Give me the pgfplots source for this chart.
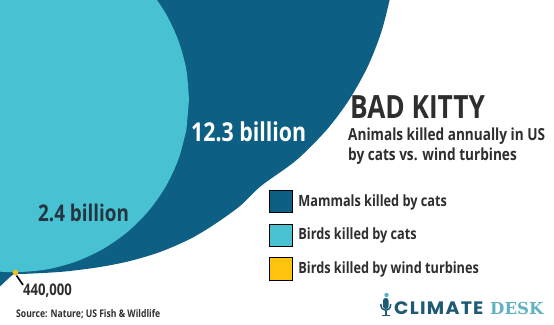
\documentclass[border=0pt]{standalone}
\usepackage{pgfplots}
\pgfplotsset{compat=1.18}
\usepackage{fontspec}
\setmainfont{Open Sans}[FakeStretch=0.82]
\newfontfamily\pop{Poppins}[LetterSpace=7, FakeStretch=1.05]
\newfontfamily\dvs{DejaVu Serif}
\definecolor{cDark}{HTML}{0E5F84}
\definecolor{cLight}{HTML}{48C2D3}
\definecolor{cYellow}{HTML}{FDC30D}
\definecolor{cText}{HTML}{2E2E2E}
\definecolor{cNum}{HTML}{243540}
\definecolor{cLogoDark}{HTML}{1E5A74}
\definecolor{cLogoLight}{HTML}{5FB3C1}
\begin{document}
\begin{tikzpicture}
\useasboundingbox (0,0) rectangle (554bp,325bp);
\fill[white] (0,0) rectangle (554bp,325bp);
\begin{axis}[
  at={(0,0)}, anchor=south west,
  width=554bp, height=325bp, scale only axis,
  xmin=0, xmax=554, ymin=0, ymax=325,
  hide axis, clip=true,
  legend image code/.code={\fill[#1] (0bp,-6.3bp) rectangle (23bp,16bp);},
  legend style={at={(axis cs:269,135)}, anchor=north west, draw=none, fill=none,
    inner sep=0pt, outer sep=0pt, row sep=11bp, column sep=6bp,
    font=\fontsize{15.5bp}{18bp}\selectfont\bfseries\color{cText},
    cells={anchor=base west},
    nodes={inner sep=0pt, outer sep=0pt, text height=16bp, text depth=6.3bp}},
]
% Mammals killed by cats (12.3 billion) - traced outline
\addplot[forget plot, fill=cDark, draw=none, smooth, tension=0.5] coordinates {
(392,340) (389.6,325) (381,292) (367.5,258) (349,225) (326.5,195) (296.6,165)
(261,139) (240,119) (215,101) (190,86) (160,73) (130,64) (100,58) (65,53.5)
(33,51.5) (15,51) (-20,51) (-20,340)
} -- cycle;
% Birds killed by cats (2.4 billion)
\addplot[forget plot, fill=cLight, draw=none, smooth] coordinates {
(189,225) (186.4,254.9) (178.6,283.8) (166,311) (148.8,335.6) (127.6,356.8)
(103,374) (75.8,386.6) (46.9,394.4) (17,397) (-12.9,394.4) (-69,374)
(-132,311) (-155,225) (-132,139) (-69,76) (-12.9,55.6) (17,53) (46.9,55.6)
(75.8,63.4) (103,76) (127.6,93.2) (148.8,114.4) (166,139) (178.6,166.2) (186.4,195.1)
} -- cycle;
% Birds killed by wind turbines (440,000)
\addplot[forget plot, black, line width=1.6bp] coordinates {(16.5,49.5) (23,40)};
\addplot[forget plot, only marks, mark=*, mark size=2.6bp,
  mark options={fill=cYellow, draw=cYellow!75!gray, line width=0.5bp}] coordinates {(15.5,52.5)};

\addlegendimage{fill=cDark}
\addlegendentry{Mammals killed by cats}
\addlegendimage{fill=cLight}
\addlegendentry{Birds killed by cats}
\addlegendimage{fill=cYellow}
\addlegendentry{Birds killed by wind turbines}

\node[anchor=base west, inner sep=0pt, text=white, font=\fontsize{26bp}{30bp}\selectfont\bfseries]
  at (axis cs:191,183.3) {12.3 billion};
\node[anchor=base west, inner sep=0pt, text=cNum, font=\fontsize{23bp}{27bp}\selectfont\bfseries]
  at (axis cs:38,103) {2.4 billion};
\node[anchor=base west, inner sep=0pt, text=cText, font=\fontsize{16bp}{19bp}\selectfont\bfseries]
  at (axis cs:23,30) {440,000};
\node[anchor=base west, inner sep=0pt, text=cText, font=\fontsize{10.5bp}{12bp}\selectfont\bfseries]
  at (axis cs:16,7.3) {Source: Nature; US Fish \& Wildlife};
\node[anchor=base west, inner sep=0pt, text=cText, font=\fontsize{32bp}{36bp}\selectfont\bfseries]
  at (axis cs:350,206.5) {BAD KITTY};
\node[anchor=base west, inner sep=0pt, text=cText, font=\fontsize{16.6bp}{20bp}\selectfont\bfseries]
  at (axis cs:348,184) {Animals killed annually in US};
\node[anchor=base west, inner sep=0pt, text=cText, font=\fontsize{16.6bp}{20bp}\selectfont\bfseries]
  at (axis cs:348,164) {by cats vs. wind turbines};

% Climate Desk logo
\fill[cLogoLight] (axis cs:386.5,30) circle[radius=2.2bp];
\fill[cLogoDark, rounded corners=2.6bp] (axis cs:383,16) rectangle (axis cs:388.5,27);
\draw[cLogoDark, line width=1.5bp] (axis cs:380.8,21) .. controls (axis cs:380.8,12.5) and (axis cs:390.7,12.5) .. (axis cs:390.7,21);
\draw[cLogoDark, line width=1.5bp] (axis cs:385.75,14) -- (axis cs:385.75,9.5);
\draw[cLogoDark, line width=1.5bp] (axis cs:381.5,9.5) -- (axis cs:390,9.5);
\node[anchor=base west, inner sep=0pt, text=cLogoDark, font=\fontsize{18bp}{20bp}\selectfont\pop\bfseries]
  at (axis cs:394,10.7) {CLIMATE};
\node[anchor=base west, inner sep=0pt, text=cLogoLight, font=\fontsize{16.5bp}{20bp}\selectfont\dvs\bfseries]
  at (axis cs:490,10.7) {DESK};
\end{axis}
\end{tikzpicture}
\end{document}
